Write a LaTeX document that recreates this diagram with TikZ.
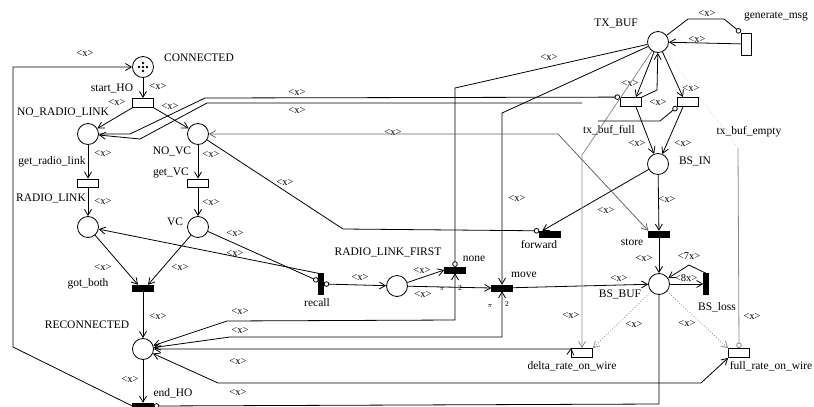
\documentclass[tikz,border=0pt]{standalone}
\usepackage{fontspec}
\setmainfont{Liberation Serif}
\usetikzlibrary{arrows.meta,calc}
\newcommand\xlab{\textless x\textgreater}
\begin{document}
\begin{tikzpicture}[x=1pt,y=-1pt,
  place/.style={draw,circle,minimum size=21pt,inner sep=0pt,line width=0.8pt},
  wtr/.style={draw,rectangle,minimum width=21pt,minimum height=9pt,inner sep=0pt,line width=0.8pt,fill=white},
  wvtr/.style={draw,rectangle,minimum width=10pt,minimum height=22pt,inner sep=0pt,line width=0.8pt,fill=white},
  btr/.style={draw,fill=black,rectangle,minimum width=21pt,minimum height=6pt,inner sep=0pt},
  vtr/.style={draw,fill=black,rectangle,minimum width=5pt,minimum height=21pt,inner sep=0pt},
  lbl/.style={font=\fontsize{11.5}{11.5}\selectfont,inner sep=0pt},
  xl/.style={font=\fontsize{10.5}{10.5}\selectfont,inner sep=0pt},
  sm/.style={font=\fontsize{7.5}{7.5}\selectfont,inner sep=0pt},
  arc/.style={line width=0.8pt,-{Straight Barb[length=6pt,width=7pt]}},
  barc/.style={line width=0.8pt,{Straight Barb[length=6pt,width=7pt]}-{Straight Barb[length=6pt,width=7pt]}},
  inh/.style={line width=0.8pt,-{Circle[open,length=5.5pt]}},
  lgray/.style={draw=black!45},
]
\useasboundingbox (0,0) rectangle (814,407);
% places
\node[place] (con) at (143,67) {};
\node[place] (nrl) at (88,134) {};
\node[place] (nvc) at (198,134) {};
\node[place] (rl) at (88,227) {};
\node[place] (vc) at (198,227) {};
\node[place] (rec) at (143,349) {};
\node[place] (rlf) at (397,286) {};
\node[place] (txb) at (658,42) {};
\node[place] (bsin) at (658,164) {};
\node[place] (bsbuf) at (659,284) {};
\foreach \dx/\dy in {0/0,4/0,-4/0,0/4,0/-4} \fill ($(con)+(\dx,\dy)$) circle (1.3);
% transitions
\node[wtr] (sho) at (143,103) {};
\node[wtr,minimum height=8pt] (grl) at (88,183) {};
\node[wtr,minimum height=8pt] (gvc) at (198,183) {};
\node[btr] (gb) at (143,288) {};
\node[btr] (eho) at (143,406) {};
\node[vtr] (rcl) at (321,284) {};
\node[btr] (tnone) at (455,270) {};
\node[btr] (move) at (502,288) {};
\node[btr] (fwd) at (550,234) {};
\node[btr] (store) at (659,234) {};
\node[vtr] (bsl) at (706,284) {};
\node[wvtr] (gen) at (746,44) {};
\node[wtr] (tbf) at (631,102) {};
\node[wtr] (tbe) at (688,102) {};
\node[wtr] (delta) at (582,353) {};
\node[wtr] (full) at (739,353) {};
% labels
\node[lbl] (l1) at (199,58) {CONNECTED};
\node[lbl] (l2) at (112,88) {start\_HO};
\node[lbl] (l3) at (63,112) {NO\_RADIO\_LINK};
\node[lbl] (l4) at (172,151) {NO\_VC};
\node[lbl] (l5) at (52,162) {get\_radio\_link};
\node[lbl] (l6) at (171,173) {get\_VC};
\node[lbl] (l7) at (51,198) {RADIO\_LINK};
\node[lbl] (l8) at (175,222) {VC};
\node[lbl] (l9) at (88,284) {got\_both};
\node[lbl] (l10) at (87,325) {RECONNECTED};
\node[lbl] (l11) at (173,393) {end\_HO};
\node[lbl] (l12) at (317,303) {recall};
\node[lbl] (l13) at (388,252) {RADIO\_LINK\_FIRST};
\node[lbl] (l14) at (474,259) {none};
\node[lbl] (l15) at (524,275) {move};
\node[lbl] (l16) at (539,245) {forward};
\node[lbl] (l17) at (632,242) {store};
\node[lbl] (l18) at (695,161) {BS\_IN};
\node[lbl] (l19) at (620,294) {BS\_BUF};
\node[lbl] (l20) at (717,307) {BS\_loss};
\node[lbl] (l21) at (616,23) {TX\_BUF};
\node[lbl] (l22) at (776,17) {generate\_msg};
\node[lbl] (l23) at (609,130) {tx\_buf\_full};
\node[lbl] (l24) at (749,132) {tx\_buf\_empty};
\node[lbl] (l25) at (572,366) {delta\_rate\_on\_wire};
\node[lbl] (l26) at (771,366) {full\_rate\_on\_wire};
% arc labels
\foreach \px/\py [count=\i] in {85/53,158/86,117/102,170/106,103/153,211/154,103/201,211/202,
  235/233,235/253,103/267,180/267,158/316,130/379,240/311,240/330,238/361,238/392,
  297/92,297/110,393/132,285/182,517/198,360/277,422/270,423/294,549/57,
  630/83,658/102,691/88,697/39,707/13,637/143,683/143,606/210,667/199,644/258,
  619/278,571/315,634/324,687/323,752/316}
  \node[xl] (x\i) at (\px,\py) {\xlab};
\node[xl] (x7x) at (689,256) {\textless 7x\textgreater};
\node[xl] (x8x) at (686,278) {\textless 8x\textgreater};
% priority marks
\node[sm] (p1) at (442,289) {$\pi$};
\node[sm] (p2) at (460,288) {2};
\node[sm] (p3) at (490,306) {$\pi$};
\node[sm] (p4) at (507,304) {2};
% free ends
\coordinate (c103) at (582,103);
\coordinate (c121) at (598,121);
\coordinate (c148) at (738,148);
% arcs left part
\draw[arc] (eho.west) -- (13,347) -- (13,67) -- (con);
\draw[arc] (con) -- (sho);
\draw[arc] (sho.south west) -- (nrl);
\draw[arc] (sho.south east) -- (nvc);
\draw[arc] (nrl) -- (grl);
\draw[arc] (grl) -- (rl);
\draw[arc] (nvc) -- (gvc);
\draw[arc] (gvc) -- (vc);
\draw[arc] (rl) -- ([xshift=-5pt]gb.north);
\draw[arc] (vc) -- ([xshift=5pt]gb.north);
\draw[arc] (gb) -- (rec);
\draw[arc] (rec) -- (eho);
\draw[inh] (vc) -- ([yshift=3pt]rcl.west);
\draw[arc] (rcl.north west) -- (rl);
\draw[{Circle[open,length=5.5pt]}-{Straight Barb[length=6pt,width=7pt]},line width=0.8pt] (rcl.east) -- (rlf);
\draw[arc] (rlf) -- (tnone.west);
\draw[arc] (rlf) -- (move.west);
% TX_BUF region
\draw[inh] (txb) -- (455,88) -- (tnone);
\draw[arc] (txb) -- (502,113) -- (move);
\draw[inh] (nvc) -- (343,229) -- (fwd.north west);
\draw[arc] (bsin) -- ([xshift=3pt]fwd.north west);
\draw[arc] (bsin) -- (store);
\draw[arc] (store) -- (bsbuf);
\draw[arc] (move) -- (bsbuf);
\draw[arc] (bsbuf) -- (bsl);
\draw[arc] (bsl.north) -- (689,265) -- (bsbuf);
\draw[inh] (bsbuf) -- (659,404) -- (eho.east);
% RECONNECTED connections
\draw[barc] (tnone) -- (455,320) -- (227,321) -- (rec);
\draw[barc] (move) -- (502,337) -- (230,337) -- (rec);
\draw[barc] (rec) -- (571,349) -- (delta.north west);
\draw[barc] (rec) -- (218,383) -- (701,383) -- (full.south west);
% top lines from NO_RADIO_LINK
\draw[inh] (nrl) -- (130,134) -- (205,98) -- (tbf.north west);
\draw[arc] (c103) -- (207,103) -- (140,139) -- (nrl);
\draw[arc,lgray] (txb) -- (582,155) -- (delta.north);
\draw[barc,draw=black!60] (store.north west) -- (558,134) -- (nvc);
% TX_BUF local
\draw[arc] (txb) -- ([xshift=5pt]tbf.north);
\draw[arc] (tbf.north east) -- (657,90) -- (txb);
\draw[arc] (txb) -- ([xshift=-5pt]tbe.north);
\draw[arc] ([xshift=5pt]tbf.south) -- (bsin);
\draw[arc] ([xshift=-5pt]tbe.south) -- (bsin);
\draw[inh] (c121) -- (660,121) -- (tbe.south west);
\draw[arc] (gen) -- (txb);
\draw[inh] (txb) -- (688,19) -- (724,19) -- (gen.north west);
\draw[line width=0.5pt,dotted,draw=black!30] (txb) -- (c148);
\draw[inh,lgray] (c148) -- (full.north);
\draw[arc,dotted,lgray] (bsbuf) -- (delta.north east);
\draw[arc,dotted,lgray] (bsbuf) -- (full.north west);
\end{tikzpicture}
\end{document}
